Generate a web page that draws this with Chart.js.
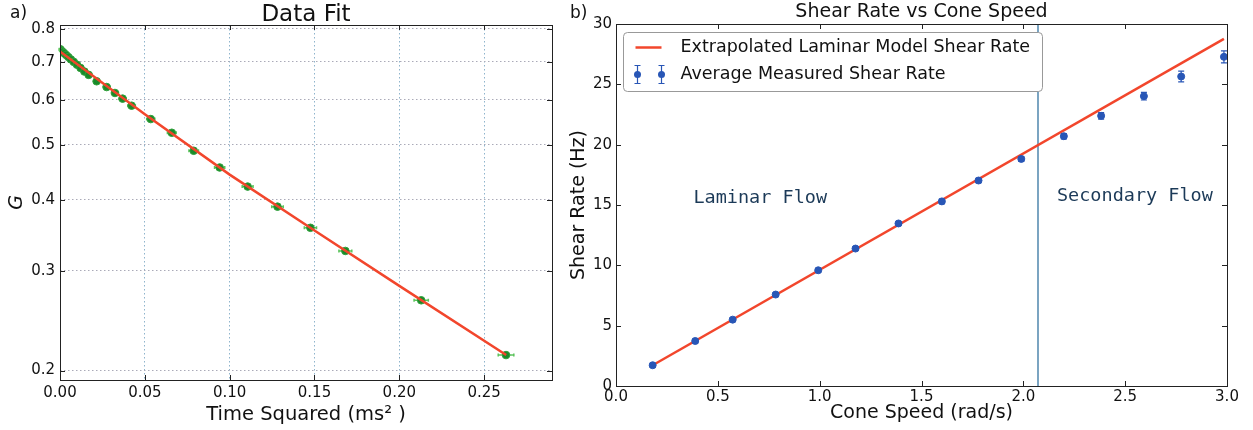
<!DOCTYPE html>
<html>
<head>
<meta charset="utf-8">
<script src="https://cdn.jsdelivr.net/npm/chart.js@4.4.1/dist/chart.umd.min.js"></script>
<style>
  html, body { margin: 0; padding: 0; background: #fff; }
  body { width: 1253px; height: 430px; position: relative; overflow: hidden; }
  canvas { position: absolute; top: 0; }
  #chart-fit { left: 0; }
  #chart-shear { left: 565px; }
</style>
</head>
<body>
<canvas id="chart-fit" width="580" height="430"></canvas>
<canvas id="chart-shear" width="688" height="430"></canvas>
<script>
// ── a) data fit ───────────────────────────────────────────────
const T2 = [0.0001, 0.0004, 0.0009, 0.0016, 0.0025, 0.0036, 0.0049, 0.0064, 0.0081, 0.0100, 0.0121, 0.0144, 0.0169,
  0.0216, 0.0275, 0.0324, 0.0369, 0.0422, 0.0535, 0.0659, 0.0788, 0.0941, 0.1106, 0.1282, 0.1476, 0.1682, 0.2129, 0.2629];
const G = [0.737, 0.735, 0.732, 0.729, 0.725, 0.72, 0.714, 0.707, 0.7, 0.692, 0.683, 0.673, 0.664,
  0.647, 0.632, 0.617, 0.603, 0.586, 0.555, 0.525, 0.488, 0.456, 0.422, 0.389, 0.357, 0.325, 0.266, 0.213];
const T2_ERR = [0.0005, 0.0008, 0.001, 0.001, 0.0012, 0.0012, 0.0013, 0.0014, 0.0015, 0.0015, 0.0016, 0.0017, 0.0018,
  0.0018, 0.002, 0.002, 0.0021, 0.0022, 0.0024, 0.0026, 0.0028, 0.003, 0.0032, 0.0034, 0.0036, 0.0038, 0.0042, 0.0046];
const FIT_T2 = [0, 0.05, 0.10, 0.15, 0.20, 0.263];
const FIT_G = [0.73, 0.566, 0.443, 0.353, 0.282, 0.213];
const T2_TICKS = [0, 0.05, 0.10, 0.15, 0.20, 0.25];
const G_TICKS = [0.2, 0.3, 0.4, 0.5, 0.6, 0.7, 0.8];

// ── b) shear rate vs cone speed ───────────────────────────────
const CONE_SPEED = [0.18, 0.389, 0.573, 0.784, 0.993, 1.176, 1.387, 1.60, 1.78, 1.99, 2.199, 2.382, 2.592, 2.775, 2.985];
const SHEAR_RATE = [1.72, 3.73, 5.5, 7.58, 9.59, 11.39, 13.47, 15.3, 17.03, 18.82, 20.7, 22.39, 24.02, 25.65, 27.28];
const SHEAR_ERR = [0.15, 0.15, 0.15, 0.15, 0.15, 0.15, 0.15, 0.18, 0.18, 0.2, 0.22, 0.27, 0.32, 0.45, 0.5];
const MODEL_SPEED = [0.18, 2.985];
const MODEL_RATE = [1.72, 28.77];
const FLOW_BOUNDARY = [2.072];
const SPEED_TICKS = [0, 0.5, 1.0, 1.5, 2.0, 2.5, 3.0];
const RATE_TICKS = [0, 5, 10, 15, 20, 25, 30];

Chart.defaults.font.family = 'DejaVu Sans';
Chart.defaults.color = '#111';

const xy = (xs, ys) => xs.map((x, i) => ({ x, y: ys[i] }));
const fixTicks = list => scale => { scale.ticks = list.map(v => ({ value: v })); };

// error bars go under the markers of their own dataset
const errorBars = {
  id: 'errorBars',
  beforeDatasetDraw(chart, args) {
    const ds = chart.data.datasets[args.index];
    if (!ds.xErr && !ds.yErr) return;
    const { ctx, scales: { x, y } } = chart;
    const cap = ds.capSize || 3;
    ctx.save();
    ctx.strokeStyle = ds.errColor;
    ctx.lineWidth = ds.errWidth || 1.2;
    ds.data.forEach((p, i) => {
      const px = x.getPixelForValue(p.x), py = y.getPixelForValue(p.y);
      ctx.beginPath();
      if (ds.xErr) {
        const x0 = x.getPixelForValue(p.x - ds.xErr[i]), x1 = x.getPixelForValue(p.x + ds.xErr[i]);
        ctx.moveTo(x0, py); ctx.lineTo(x1, py);
        ctx.moveTo(x0, py - cap); ctx.lineTo(x0, py + cap);
        ctx.moveTo(x1, py - cap); ctx.lineTo(x1, py + cap);
      }
      if (ds.yErr) {
        const y0 = y.getPixelForValue(p.y - ds.yErr[i]), y1 = y.getPixelForValue(p.y + ds.yErr[i]);
        ctx.moveTo(px, y0); ctx.lineTo(px, y1);
        ctx.moveTo(px - cap, y0); ctx.lineTo(px + cap, y0);
        ctx.moveTo(px - cap, y1); ctx.lineTo(px + cap, y1);
      }
      ctx.stroke();
    });
    ctx.restore();
  },
};

// matplotlib style frame with inward ticks on all four sides
const frame = {
  id: 'frame',
  afterDatasetsDraw(chart) {
    const { ctx, chartArea: a, scales: { x, y } } = chart;
    const len = 5;
    ctx.save();
    ctx.strokeStyle = '#222';
    ctx.lineWidth = 1;
    ctx.beginPath();
    x.ticks.forEach(t => {
      const px = Math.round(x.getPixelForValue(t.value)) + 0.5;
      ctx.moveTo(px, a.bottom); ctx.lineTo(px, a.bottom - len);
      ctx.moveTo(px, a.top); ctx.lineTo(px, a.top + len);
    });
    y.ticks.forEach(t => {
      const py = Math.round(y.getPixelForValue(t.value)) + 0.5;
      ctx.moveTo(a.left, py); ctx.lineTo(a.left + len, py);
      ctx.moveTo(a.right, py); ctx.lineTo(a.right - len, py);
    });
    ctx.stroke();
    ctx.strokeRect(Math.round(a.left) + 0.5, Math.round(a.top) + 0.5, Math.round(a.width), Math.round(a.height));
    ctx.restore();
  },
};

// free text: titles, panel letters, region notes (data: true -> x/y in axis units)
const texts = {
  id: 'texts',
  afterDraw(chart, args, opts) {
    const { ctx, scales } = chart;
    (opts.items || []).forEach(t => {
      let px = t.x, py = t.y;
      if (t.data) { px = scales.x.getPixelForValue(t.x); py = scales.y.getPixelForValue(t.y); }
      if (t.center) px = (chart.chartArea.left + chart.chartArea.right) / 2;
      ctx.save();
      ctx.font = t.font;
      ctx.fillStyle = t.color || '#111';
      ctx.textAlign = t.align || 'left';
      ctx.textBaseline = 'middle';
      ctx.fillText(t.text, px, py);
      ctx.restore();
    });
  },
};

const shearLegend = {
  id: 'shearLegend',
  afterDraw(chart) {
    const { ctx, chartArea: a } = chart;
    const [model, measured] = chart.data.datasets;
    const bx = a.left + 7.5, by = 32.5, bw = 419, bh = 59;
    ctx.save();
    ctx.fillStyle = '#fff';
    ctx.strokeStyle = '#999';
    ctx.lineWidth = 1;
    ctx.beginPath();
    ctx.roundRect(bx, by, bw, bh, 4);
    ctx.fill();
    ctx.stroke();
    // model line sample
    ctx.strokeStyle = model.borderColor;
    ctx.lineWidth = 2.5;
    ctx.beginPath();
    ctx.moveTo(bx + 12, by + 15); ctx.lineTo(bx + 38, by + 15);
    ctx.stroke();
    // measured marker samples
    ctx.strokeStyle = measured.errColor;
    ctx.fillStyle = measured.backgroundColor;
    ctx.lineWidth = 1.2;
    [bx + 14, bx + 38].forEach(mx => {
      const my = by + 42;
      ctx.beginPath();
      ctx.moveTo(mx, my - 9); ctx.lineTo(mx, my + 9);
      ctx.moveTo(mx - 3, my - 9); ctx.lineTo(mx + 3, my - 9);
      ctx.moveTo(mx - 3, my + 9); ctx.lineTo(mx + 3, my + 9);
      ctx.stroke();
      ctx.beginPath();
      ctx.arc(mx, my, 3.5, 0, Math.PI * 2);
      ctx.fill();
    });
    ctx.fillStyle = '#111';
    ctx.font = '17.5px "DejaVu Sans"';
    ctx.textBaseline = 'middle';
    ctx.fillText(model.label, bx + 57, by + 15);
    ctx.fillText(measured.label, bx + 57, by + 42);
    ctx.restore();
  },
};

const TICK_FONT = { size: 15 };

new Chart(document.getElementById('chart-fit'), {
  type: 'scatter',
  data: {
    datasets: [
      { label: 'fit', data: xy(FIT_T2, FIT_G), showLine: true, borderColor: '#f2462c', borderWidth: 2.5, pointRadius: 0, order: 0 },
      { label: 'G', data: xy(T2, G), pointRadius: 3.8, backgroundColor: '#1a8a2a', borderColor: '#2fa03a', borderWidth: 1,
        xErr: T2_ERR, errColor: '#5cc45c', errWidth: 1.5, capSize: 1.5, order: 1 },
    ],
  },
  options: {
    responsive: false, animation: false,
    layout: { padding: { left: 0, right: 28, top: 25, bottom: 0 } },
    plugins: {
      legend: { display: false }, tooltip: { enabled: false },
      texts: { items: [
        { text: 'Data Fit', center: true, y: 15, font: '23px "DejaVu Sans"', align: 'center' },
        { text: 'a)', x: 10, y: 14, font: '17px "DejaVu Sans"' },
      ] },
    },
    scales: {
      x: {
        type: 'linear', min: 0, max: 0.29,
        afterBuildTicks: fixTicks(T2_TICKS),
        afterFit: s => { s.height = 50; },
        ticks: { font: TICK_FONT, padding: 4, maxRotation: 0, callback: v => v.toFixed(2) },
        grid: { color: '#8fb4cc', drawTicks: false },
        border: { display: false, dash: [1.5, 2.5] },
        title: { display: true, text: 'Time Squared (ms² )', font: { size: 19.5 }, padding: { top: 0, bottom: 3 } },
      },
      y: {
        type: 'logarithmic', min: 0.1925, max: 0.813,
        afterBuildTicks: fixTicks(G_TICKS),
        afterFit: s => { s.width = 60; },
        ticks: { font: TICK_FONT, padding: 5, callback: v => v.toFixed(1) },
        grid: { color: '#aaaab8', drawTicks: false },
        border: { display: false, dash: [1.5, 2.5] },
        title: { display: true, text: 'G', font: { size: 19, style: 'italic' }, padding: { top: 6, bottom: 0 } },
      },
    },
  },
  plugins: [errorBars, frame, texts],
});

new Chart(document.getElementById('chart-shear'), {
  type: 'scatter',
  data: {
    datasets: [
      { label: 'Extrapolated Laminar Model Shear Rate', data: xy(MODEL_SPEED, MODEL_RATE), showLine: true,
        borderColor: '#f2462c', borderWidth: 2.5, pointRadius: 0, order: 1 },
      { label: 'Average Measured Shear Rate', data: xy(CONE_SPEED, SHEAR_RATE), pointRadius: 3.5,
        backgroundColor: '#2856b6', borderColor: '#2856b6', yErr: SHEAR_ERR, errColor: '#2856b6', capSize: 3, order: 0 },
      { label: 'boundary', data: [{ x: FLOW_BOUNDARY[0], y: RATE_TICKS[0] }, { x: FLOW_BOUNDARY[0], y: RATE_TICKS[RATE_TICKS.length - 1] }],
        showLine: true, borderColor: '#4f86ad', borderWidth: 1.5, pointRadius: 0, order: 2 },
    ],
  },
  options: {
    responsive: false, animation: false,
    layout: { padding: { left: 0, right: 26, top: 24, bottom: 0 } },
    plugins: {
      legend: { display: false }, tooltip: { enabled: false },
      texts: { items: [
        { text: 'Shear Rate vs Cone Speed', center: true, y: 12, font: '19px "DejaVu Sans"', align: 'center' },
        { text: 'b)', x: 5, y: 14, font: '17px "DejaVu Sans"' },
        { text: 'Laminar Flow', data: true, x: 0.38, y: 15.6, font: '18.5px "DejaVu Sans Mono"', color: '#1c3a58' },
        { text: 'Secondary Flow', data: true, x: 2.165, y: 15.75, font: '18.5px "DejaVu Sans Mono"', color: '#1c3a58' },
      ] },
    },
    scales: {
      x: {
        type: 'linear', min: 0, max: 3,
        afterBuildTicks: fixTicks(SPEED_TICKS),
        afterFit: s => { s.height = 44; },
        ticks: { font: TICK_FONT, padding: 2, maxRotation: 0, callback: v => v.toFixed(1) },
        grid: { display: false, drawTicks: false },
        border: { display: false },
        title: { display: true, text: 'Cone Speed (rad/s)', font: { size: 19 }, padding: { top: 0, bottom: 6 } },
      },
      y: {
        type: 'linear', min: 0, max: 30,
        afterBuildTicks: fixTicks(RATE_TICKS),
        afterFit: s => { s.width = 51; },
        ticks: { font: TICK_FONT, padding: 4 },
        grid: { display: false, drawTicks: false },
        border: { display: false },
        title: { display: true, text: 'Shear Rate (Hz)', font: { size: 19 }, padding: { top: 3, bottom: 0 } },
      },
    },
  },
  plugins: [errorBars, frame, texts, shearLegend],
});
</script>
</body>
</html>
